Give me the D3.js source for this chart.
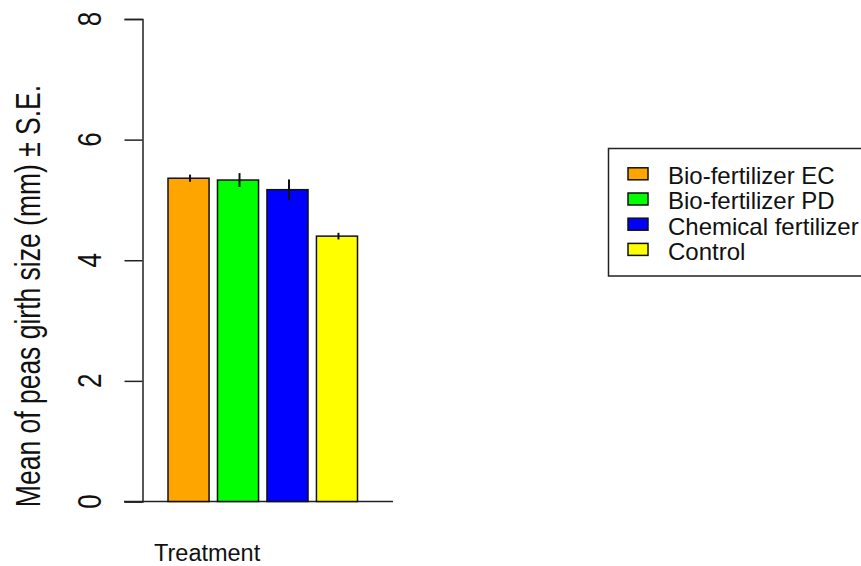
<!DOCTYPE html>
<html>
<head>
<meta charset="utf-8">
<script src="https://cdn.jsdelivr.net/npm/d3@7"></script>
<style>
  body { margin: 0; background: #fff; }
  svg { display: block; font-family: "Liberation Sans", Arial, sans-serif; }
</style>
</head>
<body>
<div id="chart"></div>
<script>
// data
const treatments = ["Bio-fertilizer EC", "Bio-fertilizer PD", "Chemical fertilizer", "Control"];
const means = [5.36, 5.33, 5.17, 4.40];
const stdErr = [0.06, 0.115, 0.17, 0.055];
const barColors = ["#FFA500", "#00FF00", "#0000FF", "#FFFF00"];
const yTicks = [0, 2, 4, 6, 8];

const width = 861, height = 566;

const svg = d3.select("#chart").append("svg")
    .attr("width", width)
    .attr("height", height);

const y = d3.scaleLinear().domain([0, 8]).range([501.5, 19]);
const x = d3.scaleBand().domain(treatments).range([168, 357.5]).paddingInner(0.17).paddingOuter(0);
const color = d3.scaleOrdinal().domain(treatments).range(barColors);

// baseline across plot region
svg.append("line")
    .attr("x1", 124).attr("x2", 393)
    .attr("y1", y(0)).attr("y2", y(0))
    .attr("stroke", "#222").attr("stroke-width", 1.5);

// y axis
const yAxis = svg.append("g")
    .attr("transform", "translate(142.5,0)")
    .call(d3.axisLeft(y).tickValues(yTicks).tickSize(18).tickFormat(""));
yAxis.select(".domain").attr("stroke", "#222").attr("stroke-width", 1.5);
yAxis.selectAll(".tick line").attr("stroke", "#222").attr("stroke-width", 1.5);

// rotated tick labels
svg.append("g").selectAll("text")
    .data(yTicks)
    .join("text")
    .attr("transform", d => `translate(101,${y(d)}) rotate(-90) scale(1,1.3)`)
    .attr("text-anchor", "middle")
    .attr("font-size", 26)
    .attr("fill", "#111")
    .text(d => d);

// bars
svg.append("g").selectAll("rect")
    .data(treatments)
    .join("rect")
    .attr("x", d => x(d))
    .attr("width", x.bandwidth())
    .attr("y", (d, i) => y(means[i]))
    .attr("height", (d, i) => y(0) - y(means[i]))
    .attr("fill", d => color(d))
    .attr("stroke", "#111")
    .attr("stroke-width", 1.5);

// error bars
svg.append("g").selectAll("line")
    .data(treatments)
    .join("line")
    .attr("x1", d => x(d) + x.bandwidth() / 2 + 1.5)
    .attr("x2", d => x(d) + x.bandwidth() / 2 + 1.5)
    .attr("y1", (d, i) => y(means[i] - stdErr[i]))
    .attr("y2", (d, i) => y(means[i] + stdErr[i]))
    .attr("stroke", "#111")
    .attr("stroke-width", 2);

// axis titles
svg.append("text")
    .attr("transform", "translate(40,296) rotate(-90) scale(1,1.3)")
    .attr("text-anchor", "middle")
    .attr("font-size", 26.5)
    .attr("fill", "#111")
    .text("Mean of peas girth size (mm) ± S.E.");

svg.append("text")
    .attr("x", 154).attr("y", 561)
    .attr("font-size", 23.5)
    .attr("fill", "#111")
    .text("Treatment");

// legend
const legend = svg.append("g");
legend.append("rect")
    .attr("x", 608.5).attr("y", 148.5)
    .attr("width", 270).attr("height", 127.5)
    .attr("fill", "none")
    .attr("stroke", "#222").attr("stroke-width", 1.5);

const rowY = d3.scalePoint().domain(treatments).range([175.8, 251.4]);
const item = legend.selectAll(".item")
    .data(treatments)
    .join("g")
    .attr("class", "item")
    .attr("transform", d => `translate(0,${rowY(d)})`);
item.append("rect")
    .attr("x", 628).attr("y", -8)
    .attr("width", 20).attr("height", 12)
    .attr("fill", d => color(d))
    .attr("stroke", "#111").attr("stroke-width", 1.5);
item.append("text")
    .attr("x", 668).attr("y", 8.4)
    .attr("font-size", 24)
    .attr("fill", "#111")
    .text(d => d);
</script>
</body>
</html>
